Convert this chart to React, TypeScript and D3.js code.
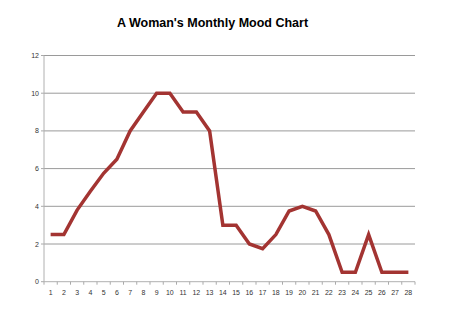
import React from "react";
import * as d3 from "d3";

const days = Array.from({ length: 28 }, (_, i) => String(i + 1));
const mood = [2.5, 2.5, 3.8, 4.8, 5.75, 6.5, 8, 9, 10, 10, 9, 9, 8, 3, 3, 2, 1.75, 2.5, 3.75, 4, 3.75, 2.5, 0.5, 0.5, 2.5, 0.5, 0.5, 0.5];
const yTicks = [0, 2, 4, 6, 8, 10, 12];
const title = "A Woman's Monthly Mood Chart";

export default function App() {
  const W = 456, H = 330;
  const left = 44, right = 415, top = 55.5, bottom = 281.7;
  const x = d3.scaleBand<string>().domain(days).range([left, right]);
  const y = d3.scaleLinear().domain([0, 12]).range([bottom, top]);
  const line = d3
    .line<number>()
    .x((_, i) => (x(days[i]) as number) + x.bandwidth() / 2)
    .y((d) => y(d));
  const font = "'Liberation Sans', Arial, sans-serif";
  return (
    <svg width={W} height={H} style={{ position: "absolute", left: 0, top: 0 }}>
      <rect width={W} height={H} fill="#fff" />
      <text x={212.5} y={27} textAnchor="middle" fontFamily={font} fontWeight="bold" fontSize={12.5} fill="#000">
        {title}
      </text>
      {yTicks.map((t) => (
        <g key={t}>
          {t > 0 && <line x1={left} x2={right} y1={y(t)} y2={y(t)} stroke="#9a9a9a" strokeWidth={1} />}
          <line x1={left - 3} x2={left} y1={y(t)} y2={y(t)} stroke="#aaa" strokeWidth={1} />
          <text x={left - 5} y={y(t) + 2.5} textAnchor="end" fontFamily={font} fontSize={7} fill="#333">
            {t}
          </text>
        </g>
      ))}
      <line x1={left} x2={left} y1={top} y2={bottom} stroke="#b0b0b0" strokeWidth={1} />
      <line x1={left} x2={right} y1={bottom} y2={bottom} stroke="#b0b0b0" strokeWidth={1} />
      {days.map((d) => (
        <line key={"t" + d} x1={x(d) as number} x2={x(d) as number} y1={bottom} y2={bottom + 3} stroke="#aaa" strokeWidth={1} />
      ))}
      <line x1={right} x2={right} y1={bottom} y2={bottom + 3} stroke="#aaa" strokeWidth={1} />
      {days.map((d) => (
        <text key={d} x={(x(d) as number) + x.bandwidth() / 2} y={bottom + 13} textAnchor="middle" fontFamily={font} fontSize={7} fill="#333">
          {d}
        </text>
      ))}
      <path d={line(mood) || ""} fill="none" stroke="#a33432" strokeWidth={3.5} strokeLinejoin="miter" strokeLinecap="butt" />
    </svg>
  );
}
